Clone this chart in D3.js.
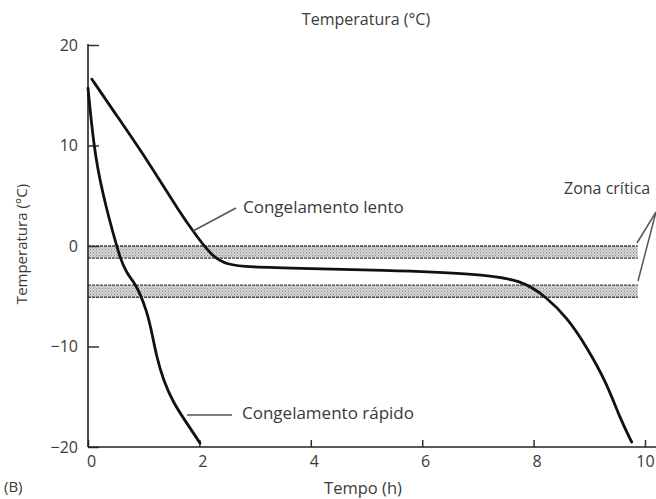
<!DOCTYPE html>
<html>
<head>
<meta charset="utf-8">
<script src="https://cdn.jsdelivr.net/npm/d3@7"></script>
<style>
  body { margin: 0; background: #fff; }
  svg text { font-family: "Open Sans", sans-serif; fill: #3a3a3a; }
</style>
</head>
<body>
<div id="chart"></div>
<script>
// Data
var slowTime = [0.07, 0.45, 1.06, 1.65, 1.96, 2.24, 2.5, 2.85, 4.0, 5.2, 7.0, 7.8, 8.23, 8.6, 8.95, 9.31, 9.54, 9.76],
  slowTemp = [16.6, 13.5, 8.6, 3.3, 0.9, -1.1, -1.85, -2.1, -2.25, -2.4, -2.75, -3.4, -5.1, -7.1, -10, -13.6, -17, -19.5];

var fastTime = [0.0, 0.126, 0.335, 0.515, 0.57, 0.69, 0.84, 0.93, 1.05, 1.14, 1.23, 1.35, 1.53, 1.77, 2.01],
  fastTemp = [15.7, 8.6, 3.6, 0.0, -1.06, -2.7, -3.7, -4.7, -6.4, -8.4, -11, -13.3, -15.6, -17.6, -19.6];

// critical zones (temp top, temp bottom), drawn from t=0 to bandEnd
var bandTop = [0, -3.9],
  bandBottom = [-1.2, -5.1],
  bandEnd = 9.87;

var xTicks = [0, 2, 4, 6, 8, 10],
  yTicks = [20, 10, 0, -10, -20];

// Placement
var W = 656, H = 499,
  x0 = 88, x1 = 645,
  yTopPx = 45, yBotPx = 447;

var x = d3.scaleLinear().domain([0, 10]).range([x0, x1]);
var y = d3.scaleLinear().domain([-20, 20]).range([yBotPx, yTopPx]);

var svg = d3.select("#chart")
  .append("svg")
  .attr("width", W)
  .attr("height", H);

// stipple pattern for the bands
var defs = svg.append("defs");
var pat = defs.append("pattern")
  .attr("id", "stip")
  .attr("width", 3)
  .attr("height", 3)
  .attr("patternUnits", "userSpaceOnUse");
pat.append("rect").attr("width", 3).attr("height", 3).attr("fill", "#d6d6d6");
pat.append("rect").attr("x", 0).attr("y", 0).attr("width", 1).attr("height", 1).attr("fill", "#888");
pat.append("rect").attr("x", 1.5).attr("y", 1.5).attr("width", 1).attr("height", 1).attr("fill", "#999");

// bands
bandTop.forEach(function(t, i) {
  svg.append("rect")
    .attr("x", x(0))
    .attr("y", y(t))
    .attr("width", x(bandEnd) - x(0))
    .attr("height", y(bandBottom[i]) - y(t))
    .attr("fill", "url(#stip)");
  [t, bandBottom[i]].forEach(function(v) {
    svg.append("line")
      .attr("x1", x(0)).attr("x2", x(bandEnd))
      .attr("y1", y(v)).attr("y2", y(v))
      .attr("stroke", "#444")
      .attr("stroke-width", 1.3)
      .attr("stroke-dasharray", "3,1");
  });
});

// axes
var yAxis = d3.axisLeft(y)
  .tickValues(yTicks)
  .tickFormat(function(d) { return d < 0 ? "\u2212" + Math.abs(d) : d; })
  .tickSizeInner(-11)
  .tickSizeOuter(0)
  .tickPadding(10);

var xAxis = d3.axisBottom(x)
  .tickValues(xTicks)
  .tickSizeInner(-7)
  .tickSizeOuter(0)
  .tickPadding(9);

var gy = svg.append("g")
  .attr("transform", "translate(" + x0 + ",0)")
  .call(yAxis);
gy.select(".domain").remove();

var gx = svg.append("g")
  .attr("transform", "translate(0," + yBotPx + ")")
  .call(xAxis);
gx.select(".domain").remove();

svg.selectAll(".tick line").attr("stroke", "#333").attr("stroke-width", 1.5);
svg.selectAll(".tick text")
  .attr("font-size", 16)
  .style("font-family", "'Open Sans', sans-serif")
  .attr("fill", "#3a3a3a");
gx.selectAll(".tick text").attr("dx", function(d) { return d === 10 ? 0 : 3; });

// axis lines
svg.append("line")
  .attr("x1", x0).attr("x2", x0)
  .attr("y1", y(20) - 1).attr("y2", yBotPx)
  .attr("stroke", "#222").attr("stroke-width", 1.6);
svg.append("line")
  .attr("x1", x0).attr("x2", W)
  .attr("y1", yBotPx).attr("y2", yBotPx)
  .attr("stroke", "#222").attr("stroke-width", 1.6);

// curves (basis keeps them smooth, ends stay on the first/last point)
var line = d3.line()
  .x(function(d) { return x(d[0]); })
  .y(function(d) { return y(d[1]); })
  .curve(d3.curveBasis);

[d3.zip(slowTime, slowTemp), d3.zip(fastTime, fastTemp)].forEach(function(pts) {
  svg.append("path")
    .datum(pts)
    .attr("d", line)
    .attr("fill", "none")
    .attr("stroke", "#111")
    .attr("stroke-width", 2.8)
    .attr("stroke-linecap", "round");
});

// leader lines
var leaders = [
  [193, 231, 236, 208],
  [187, 415, 232, 415],
  [656, 212, 637, 243],
  [656, 212, 638, 281]
];
leaders.forEach(function(l) {
  svg.append("line")
    .attr("x1", l[0]).attr("y1", l[1])
    .attr("x2", l[2]).attr("y2", l[3])
    .attr("stroke", "#555")
    .attr("stroke-width", 1.5);
});

// labels
function label(txt, xx, yy, size, anchor) {
  return svg.append("text")
    .attr("x", xx).attr("y", yy)
    .attr("font-size", size)
    .attr("text-anchor", anchor || "start")
    .text(txt);
}
label("Temperatura (\u00B0C)", 366, 25, 16, "middle");
label("Congelamento lento", 243, 213, 17);
label("Congelamento r\u00E1pido", 242, 419, 17);
label("Zona cr\u00EDtica", 564, 194, 16);
label("Tempo (h)", 363, 494, 16.5, "middle");
label("(B)", 4, 492, 15);

svg.append("text")
  .attr("transform", "translate(27,244) rotate(-90)")
  .attr("font-size", 15)
  .attr("text-anchor", "middle")
  .text("Temperatura (\u00B0C)");
</script>
</body>
</html>
